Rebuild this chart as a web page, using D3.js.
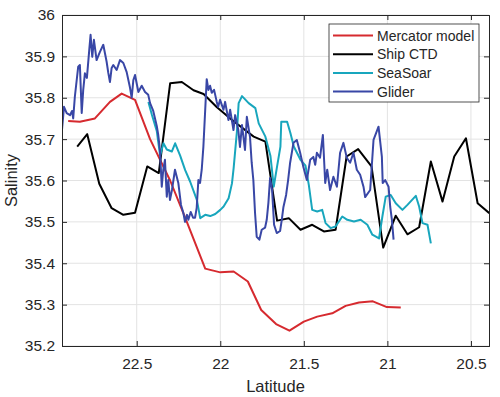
<!DOCTYPE html>
<html>
<head>
<meta charset="utf-8">
<script src="https://cdn.jsdelivr.net/npm/d3@7"></script>
<style>
  body { margin: 0; background: #fff; }
  text { font-family: "Liberation Sans", Arial, sans-serif; fill: #262626; }
</style>
</head>
<body>
<div class="chart"></div>
<script>

var mercatorLat = [22.91, 22.84, 22.75, 22.66, 22.59, 22.51, 22.42, 22.30, 22.21, 22.09, 22.00, 21.92, 21.835, 21.755, 21.666, 21.586, 21.50, 21.42, 21.33, 21.25, 21.17, 21.087, 21.003, 20.92];
var mercatorSal = [35.744, 35.742, 35.75, 35.79, 35.81, 35.795, 35.70, 35.60, 35.51, 35.387, 35.378, 35.38, 35.356, 35.287, 35.253, 35.237, 35.259, 35.271, 35.279, 35.297, 35.305, 35.308, 35.294, 35.293];

var ctdLat = [22.856, 22.796, 22.724, 22.65, 22.58, 22.51, 22.437, 22.368, 22.30, 22.23, 22.16, 22.10, 22.02, 21.935, 21.80, 21.73, 21.66, 21.59, 21.52, 21.45, 21.38, 21.31, 21.244, 21.175, 21.095, 21.025, 20.95, 20.88, 20.81, 20.74, 20.67, 20.60, 20.53, 20.46, 20.39];
var ctdSal = [35.682, 35.712, 35.592, 35.533, 35.517, 35.522, 35.634, 35.618, 35.835, 35.838, 35.818, 35.809, 35.777, 35.748, 35.706, 35.694, 35.503, 35.509, 35.481, 35.493, 35.477, 35.481, 35.658, 35.676, 35.634, 35.438, 35.515, 35.47, 35.487, 35.646, 35.549, 35.658, 35.702, 35.545, 35.521];

var seasoarLat = [22.43, 22.41, 22.38, 22.36, 22.34, 22.32, 22.29, 22.27, 22.24, 22.21, 22.18, 22.14, 22.12, 22.09, 22.06, 22.03, 22.00, 21.98, 21.95, 21.93, 21.92, 21.90, 21.89, 21.87, 21.83, 21.79, 21.77, 21.73, 21.70, 21.68, 21.66, 21.64, 21.635, 21.60, 21.58, 21.56, 21.52, 21.49, 21.47, 21.45, 21.42, 21.39, 21.37, 21.34, 21.31, 21.27, 21.24, 21.20, 21.16, 21.12, 21.09, 21.05, 21.03, 21.01, 20.98, 20.95, 20.91, 20.88, 20.83, 20.81, 20.79, 20.76, 20.74];
var seasoarSal = [35.79, 35.76, 35.72, 35.66, 35.69, 35.675, 35.67, 35.69, 35.66, 35.625, 35.597, 35.553, 35.509, 35.517, 35.514, 35.519, 35.529, 35.537, 35.557, 35.593, 35.63, 35.72, 35.787, 35.804, 35.787, 35.775, 35.738, 35.706, 35.66, 35.585, 35.634, 35.682, 35.742, 35.742, 35.714, 35.682, 35.65, 35.636, 35.589, 35.529, 35.525, 35.529, 35.497, 35.485, 35.489, 35.513, 35.505, 35.501, 35.505, 35.493, 35.469, 35.46, 35.513, 35.561, 35.565, 35.545, 35.529, 35.541, 35.563, 35.537, 35.497, 35.493, 35.448];

var gliderLat = [22.949, 22.935, 22.919, 22.899, 22.887, 22.880, 22.870, 22.850, 22.840, 22.829, 22.820, 22.810, 22.798, 22.784, 22.776, 22.766, 22.756, 22.740, 22.720, 22.700, 22.680, 22.670, 22.660, 22.650, 22.640, 22.620, 22.600, 22.580, 22.560, 22.540, 22.530, 22.520, 22.510, 22.490, 22.470, 22.450, 22.431, 22.420, 22.401, 22.380, 22.371, 22.361, 22.350, 22.341, 22.331, 22.320, 22.311, 22.301, 22.289, 22.271, 22.251, 22.235, 22.221, 22.211, 22.199, 22.191, 22.177, 22.163, 22.151, 22.141, 22.131, 22.121, 22.111, 22.101, 22.081, 22.071, 22.061, 22.051, 22.037, 22.021, 22.013, 22.001, 21.981, 21.971, 21.951, 21.941, 21.921, 21.911, 21.892, 21.882, 21.870, 21.852, 21.841, 21.822, 21.812, 21.802, 21.792, 21.782, 21.766, 21.752, 21.732, 21.722, 21.712, 21.702, 21.690, 21.678, 21.662, 21.642, 21.632, 21.622, 21.606, 21.594, 21.582, 21.562, 21.542, 21.522, 21.503, 21.482, 21.462, 21.443, 21.432, 21.422, 21.403, 21.386, 21.372, 21.360, 21.343, 21.323, 21.302, 21.283, 21.263, 21.243, 21.223, 21.203, 21.183, 21.163, 21.143, 21.133, 21.103, 21.083, 21.053, 21.033, 21.028, 21.013, 20.993, 20.983, 20.973, 20.963];
var gliderSal = [35.714, 35.778, 35.763, 35.758, 35.768, 35.750, 35.803, 35.875, 35.879, 35.763, 35.819, 35.859, 35.848, 35.915, 35.952, 35.899, 35.940, 35.891, 35.911, 35.928, 35.887, 35.860, 35.838, 35.872, 35.879, 35.867, 35.891, 35.884, 35.862, 35.824, 35.800, 35.843, 35.855, 35.814, 35.829, 35.814, 35.807, 35.787, 35.768, 35.732, 35.710, 35.674, 35.585, 35.626, 35.650, 35.561, 35.601, 35.553, 35.577, 35.626, 35.594, 35.541, 35.522, 35.500, 35.517, 35.505, 35.524, 35.510, 35.510, 35.534, 35.601, 35.594, 35.626, 35.682, 35.845, 35.819, 35.829, 35.812, 35.819, 35.790, 35.778, 35.795, 35.771, 35.790, 35.746, 35.771, 35.722, 35.758, 35.722, 35.681, 35.734, 35.674, 35.754, 35.705, 35.643, 35.601, 35.522, 35.464, 35.457, 35.481, 35.486, 35.505, 35.546, 35.606, 35.577, 35.493, 35.473, 35.478, 35.505, 35.536, 35.565, 35.601, 35.643, 35.691, 35.698, 35.667, 35.633, 35.601, 35.650, 35.657, 35.638, 35.667, 35.655, 35.710, 35.594, 35.626, 35.577, 35.609, 35.585, 35.667, 35.691, 35.655, 35.643, 35.667, 35.626, 35.614, 35.585, 35.560, 35.577, 35.698, 35.730, 35.657, 35.594, 35.601, 35.585, 35.536, 35.505, 35.457];

var xTicks = [22.5, 22, 21.5, 21, 20.5];
var yTicks = [35.2, 35.3, 35.4, 35.5, 35.6, 35.7, 35.8, 35.9, 36];
var seriesNames = ["Mercator model", "Ship CTD", "SeaSoar", "Glider"];
var seriesColors = ["#d62a2f", "#000000", "#18a6bd", "#3947a6"];

var w = 500;
var h = 397;
var margin = {top: 15, right: 11, bottom: 51, left: 62};
var pw = w - margin.left - margin.right;
var ph = h - margin.top - margin.bottom;

var svg = d3.select(".chart")
            .append("svg")
            .attr("width", w)
            .attr("height", h);

var x = d3.scaleLinear().domain([22.947, 20.392]).range([0, pw]);
var y = d3.scaleLinear().domain([35.2, 36]).range([ph, 0]);

var g = svg.append("g")
           .attr("transform", "translate(" + margin.left + "," + margin.top + ")");

// grid
g.selectAll(".vgrid")
  .data(xTicks)
  .enter()
  .append("line")
  .attr("x1", function(d) { return x(d); })
  .attr("x2", function(d) { return x(d); })
  .attr("y1", 0)
  .attr("y2", ph)
  .attr("stroke", "#e3e3e3")
  .attr("stroke-width", 1);

g.selectAll(".hgrid")
  .data(yTicks)
  .enter()
  .append("line")
  .attr("x1", 0)
  .attr("x2", pw)
  .attr("y1", function(d) { return y(d); })
  .attr("y2", function(d) { return y(d); })
  .attr("stroke", "#e3e3e3")
  .attr("stroke-width", 1);

svg.append("clipPath")
   .attr("id", "clip")
   .append("rect")
   .attr("width", pw)
   .attr("height", ph);

var lines = [
  [mercatorLat, mercatorSal],
  [ctdLat, ctdSal],
  [seasoarLat, seasoarSal],
  [gliderLat, gliderSal]
];

var line = d3.line()
             .x(function(d) { return x(d[0]); })
             .y(function(d) { return y(d[1]); });

var plot = g.append("g").attr("clip-path", "url(#clip)");

lines.forEach(function(s, i) {
  var pts = s[0].map(function(lat, j) { return [lat, s[1][j]]; });
  plot.append("path")
      .datum(pts)
      .attr("d", line)
      .attr("fill", "none")
      .attr("stroke", seriesColors[i])
      .attr("stroke-width", 2)
      .attr("stroke-linejoin", "round");
});

// axes
var axisColor = "#262626";
var xAxis = d3.axisBottom(x).tickValues(xTicks).tickSize(-5).tickPadding(12).tickFormat(d3.format("~g"));
var xAxisTop = d3.axisTop(x).tickValues(xTicks).tickSize(-5).tickFormat("");
var yAxis = d3.axisLeft(y).tickValues(yTicks).tickSize(-5).tickPadding(7).tickFormat(d3.format("~g"));
var yAxisRight = d3.axisRight(y).tickValues(yTicks).tickSize(-5).tickFormat("");

var axes = [
  g.append("g").attr("transform", "translate(0," + ph + ")").call(xAxis),
  g.append("g").call(xAxisTop),
  g.append("g").call(yAxis),
  g.append("g").attr("transform", "translate(" + pw + ",0)").call(yAxisRight)
];

axes.forEach(function(a) {
  a.select(".domain").attr("stroke", axisColor).attr("stroke-width", 1);
  a.selectAll(".tick line").attr("stroke", axisColor);
  a.selectAll(".tick text")
   .attr("font-family", "Liberation Sans, Arial, sans-serif")
   .attr("font-size", "15.5px")
   .attr("fill", axisColor);
});

svg.append("text")
   .text("Latitude")
   .attr("x", margin.left + pw / 2)
   .attr("y", 392)
   .attr("text-anchor", "middle")
   .attr("font-size", "16.5px");

svg.append("text")
   .text("Salinity")
   .attr("transform", "translate(17," + (margin.top + ph / 2) + ") rotate(-90)")
   .attr("text-anchor", "middle")
   .attr("font-size", "16.5px");

// legend
var legend = svg.append("g").attr("transform", "translate(329,24)");

legend.append("rect")
      .attr("width", 150)
      .attr("height", 78)
      .attr("fill", "#fff")
      .attr("stroke", axisColor)
      .attr("stroke-width", 0.8);

var items = legend.selectAll(".item")
                  .data(seriesNames)
                  .enter()
                  .append("g")
                  .attr("transform", function(d, i) {
                    return "translate(0," + (11.5 + i * 18.7) + ")";
                  });

items.append("line")
     .attr("x1", 4)
     .attr("x2", 44)
     .attr("y1", 0)
     .attr("y2", 0)
     .attr("stroke", function(d, i) { return seriesColors[i]; })
     .attr("stroke-width", 2);

items.append("text")
     .text(function(d) { return d; })
     .attr("x", 48)
     .attr("y", 5)
     .attr("font-size", "14px");

</script>
</body>
</html>
